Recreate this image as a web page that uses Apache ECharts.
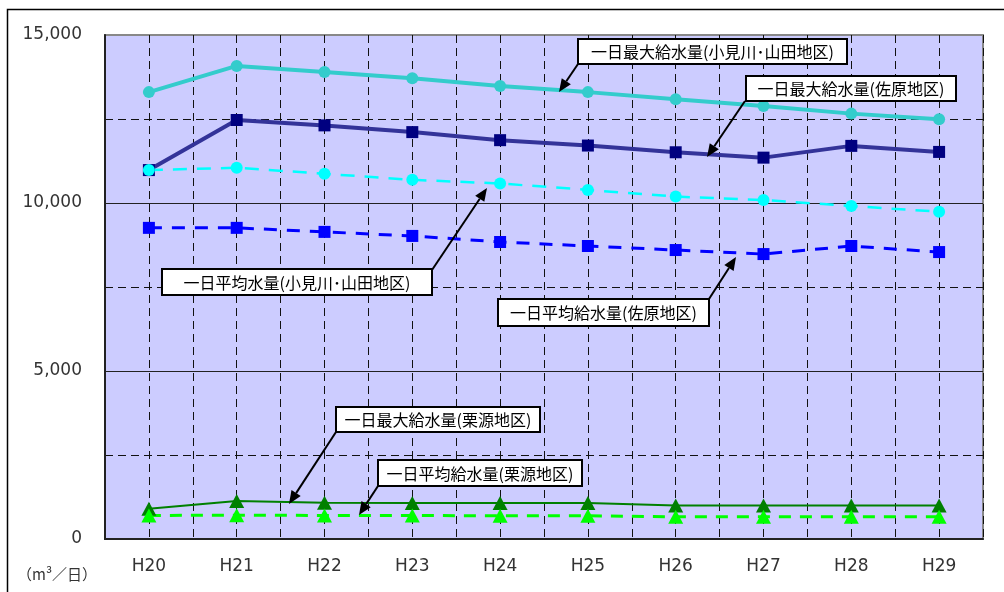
<!DOCTYPE html>
<html>
<head>
<meta charset="utf-8">
<script src="https://cdn.jsdelivr.net/npm/echarts@6/dist/echarts.min.js"></script>
<style>
  html, body { margin: 0; padding: 0; background: #fff; }
  #main { width: 1004px; height: 592px; }
</style>
</head>
<body>
<div id="main"></div>
<script>
// fiscal years (Heisei)
const years = ["H20", "H21", "H22", "H23", "H24", "H25", "H26", "H27", "H28", "H29"];

// m3 per day
const maxOmigawa = [13300, 14080, 13900, 13710, 13480, 13300, 13090, 12890, 12660, 12490];
const maxSawara = [10980, 12470, 12310, 12110, 11870, 11710, 11510, 11350, 11700, 11520];
const avgOmigawa = [10980, 11050, 10870, 10690, 10580, 10390, 10190, 10090, 9910, 9740];
const avgSawara = [9260, 9260, 9140, 9020, 8840, 8720, 8600, 8480, 8720, 8540];
const maxKurimoto = [900, 1130, 1080, 1070, 1070, 1070, 1000, 1000, 1000, 1000];
const avgKurimoto = [700, 710, 700, 700, 690, 690, 660, 660, 660, 660];

const jpFont = '"Noto Sans CJK JP", sans-serif';

// callout box + arrow
const callout = (text, box, from, tip) => {
  const els = [];
  const dx = tip[0] - from[0];
  const dy = tip[1] - from[1];
  const len = Math.sqrt(dx * dx + dy * dy);
  const ux = dx / len, uy = dy / len;
  const headLen = 13, headW = 5.5;
  const bx = tip[0] - ux * headLen, by = tip[1] - uy * headLen;
  els.push({
    type: "line",
    z: 100,
    shape: { x1: from[0], y1: from[1], x2: bx, y2: by },
    style: { stroke: "#000", lineWidth: 2 }
  });
  els.push({
    type: "polygon",
    z: 100,
    shape: {
      points: [
        tip,
        [bx - uy * headW, by + ux * headW],
        [bx + uy * headW, by - ux * headW]
      ]
    },
    style: { fill: "#000" }
  });
  els.push({
    type: "rect",
    z: 101,
    shape: { x: box[0], y: box[1], width: box[2], height: box[3] },
    style: { fill: "#fff", stroke: "#000", lineWidth: 2 }
  });
  els.push({
    type: "text",
    z: 102,
    x: box[0] + box[2] / 2,
    y: box[1] + box[3] / 2 + 0.5,
    style: {
      text: text,
      fill: "#000",
      font: "16px " + jpFont,
      align: "center",
      verticalAlign: "middle"
    }
  });
  return els;
};

const chart = echarts.init(document.getElementById("main"));

const option = {
  animation: false,
  grid: {
    left: 105,
    right: 21,
    top: 35,
    bottom: 53,
    show: true,
    backgroundColor: "#CCCCFF",
    borderColor: "#888",
    borderWidth: 2
  },
  xAxis: [
    {
      type: "category",
      data: years,
      boundaryGap: true,
      axisLine: { lineStyle: { color: "#222", width: 2 } },
      axisTick: { show: false },
      splitLine: { show: false },
      axisLabel: {
        margin: 19,
        fontSize: 17,
        color: "#333",
        fontFamily: "DejaVu Sans"
      }
    },
    {
      // half-category dashed gridlines
      type: "value",
      position: "top",
      min: 0,
      max: 20,
      interval: 1,
      axisLine: { show: false },
      axisTick: { show: false },
      axisLabel: { show: false },
      splitLine: {
        show: true,
        lineStyle: { color: "#111", width: 1, type: [8, 5] }
      }
    }
  ],
  yAxis: {
    type: "value",
    min: 0,
    max: 15000,
    interval: 5000,
    axisLine: { show: true, lineStyle: { color: "#222", width: 2 } },
    axisTick: { show: false },
    axisLabel: {
      margin: 23,
      fontSize: 17,
      color: "#333",
      fontFamily: "DejaVu Sans",
      formatter: (v) => String(v).replace(/\B(?=(\d{3})+(?!\d))/g, ",")
    },
    splitLine: {
      show: true,
      lineStyle: { color: ["#222", "#222", "#222", "#888"], width: 1 }
    },
    minorTick: { show: false, splitNumber: 2 },
    minorSplitLine: {
      show: true,
      lineStyle: { color: "#111", width: 1, type: [8, 5] }
    }
  },
  series: [
    {
      name: "一日最大給水量(栗源地区)",
      type: "line",
      data: maxKurimoto,
      symbol: "triangle",
      symbolSize: [15, 14],
      lineStyle: { color: "#008000", width: 2 },
      itemStyle: { color: "#008000" }
    },
    {
      name: "一日平均給水量(栗源地区)",
      type: "line",
      data: avgKurimoto,
      symbol: "triangle",
      symbolSize: [15, 14],
      lineStyle: { color: "#00FF00", width: 3, type: [12, 9] },
      itemStyle: { color: "#00FF00" }
    },
    {
      name: "一日平均給水量(佐原地区)",
      type: "line",
      data: avgSawara,
      symbol: "rect",
      symbolSize: 12,
      lineStyle: { color: "#0000FF", width: 3, type: [13, 10] },
      itemStyle: { color: "#0000FF" }
    },
    {
      name: "一日最大給水量(佐原地区)",
      type: "line",
      data: maxSawara,
      symbol: "rect",
      symbolSize: 12,
      lineStyle: { color: "#333399", width: 4 },
      itemStyle: { color: "#000080" }
    },
    {
      name: "一日平均水量(小見川･山田地区)",
      type: "line",
      data: avgOmigawa,
      symbol: "circle",
      symbolSize: 12,
      lineStyle: { color: "#00FFFF", width: 2.5, type: [14, 10] },
      itemStyle: { color: "#00FFFF" }
    },
    {
      name: "一日最大給水量(小見川･山田地区)",
      type: "line",
      data: maxOmigawa,
      symbol: "circle",
      symbolSize: 12,
      lineStyle: { color: "#33CCCC", width: 4 },
      itemStyle: { color: "#33CCCC" }
    }
  ],
  graphic: [
    {
      type: "rect",
      z: 0,
      shape: { x: 7.5, y: 9.5, width: 1010, height: 620 },
      style: { fill: null, stroke: "#000", lineWidth: 1.5 }
    },
    {
      type: "text",
      x: 17,
      y: 574,
      style: {
        text: "（m³／日）",
        fill: "#333",
        font: "15px " + jpFont,
        verticalAlign: "middle"
      }
    },
    ...callout("一日最大給水量(小見川･山田地区)", [578, 39, 269, 25], [578, 64], [559, 92]),
    ...callout("一日最大給水量(佐原地区)", [746, 76, 210, 25], [745, 101], [707, 157]),
    ...callout("一日平均水量(小見川･山田地区)", [162, 269, 270, 26], [432, 270], [487, 188]),
    ...callout("一日平均給水量(佐原地区)", [498, 299, 211, 27], [709, 299], [736, 257]),
    ...callout("一日最大給水量(栗源地区)", [336, 407, 204, 25], [336, 432], [289, 504]),
    ...callout("一日平均給水量(栗源地区)", [378, 460, 204, 26], [378, 486], [359, 515])
  ]
};

chart.setOption(option);
</script>
</body>
</html>
